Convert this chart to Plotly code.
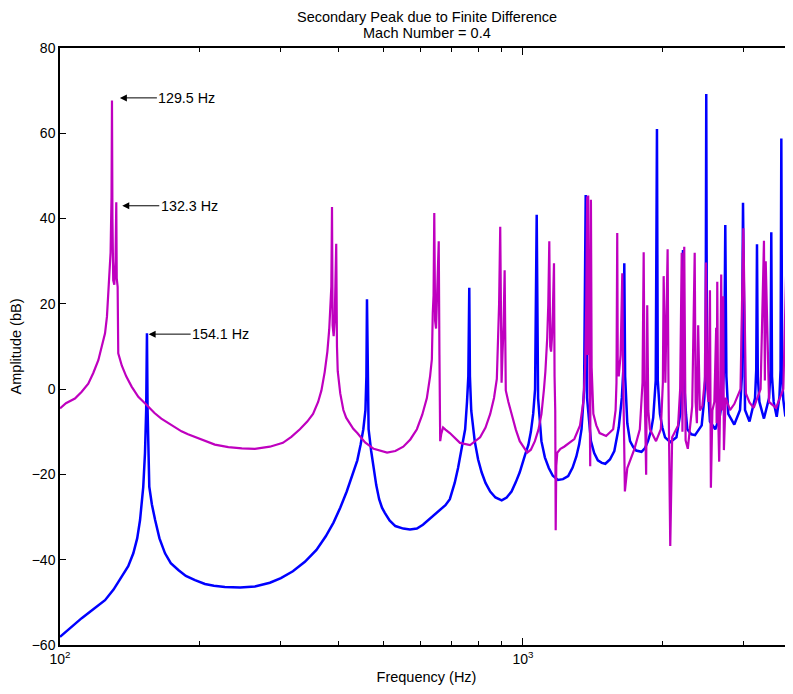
import numpy as np
import plotly.graph_objects as go

# Data (frequency in Hz, amplitude in dB)
blue_freq = [
    100, 105.5, 111.4, 118, 125.1, 130.5, 135.9, 140.4, 144, 146.8, 148.9, 150.2, 151.3, 152.6, 153.5, 154.1,
    154.6, 155.9, 157.9, 160.5, 164, 168.6, 173.5, 180.1, 187, 195.7, 205.6, 215, 227, 245, 263.6, 284,
    300, 318.4, 338, 358, 375, 389.7, 403, 416.2, 428,
    438.7, 446, 452, 456.8, 459, 460.3, 461.5, 464, 470, 476, 482, 489, 496, 503, 515, 530,
    551.4, 570, 590, 608, 628.5, 645, 662, 680, 695, 712, 724, 733, 740, 750, 757, 762,
    765.6, 768, 773, 779, 786.6, 800, 814, 830, 849.6, 872, 899.6, 922, 944.6, 965, 984, 1010,
    1027, 1040, 1052, 1062, 1070.6, 1078, 1087, 1096, 1115, 1137, 1160, 1190, 1220, 1252, 1280, 1304,
    1322, 1338, 1355, 1366, 1375, 1388, 1402, 1425, 1451, 1480, 1506, 1541, 1575, 1610, 1635, 1648,
    1655, 1662, 1680, 1703, 1730, 1756, 1803, 1835, 1862, 1890, 1911, 1935, 1947, 1955, 1976, 2000,
    2027, 2080, 2145, 2186, 2205, 2216, 2225, 2250, 2264, 2310, 2353, 2432, 2465, 2480, 2488, 2496,
    2534, 2602, 2660, 2690, 2720, 2735, 2750, 2776, 2860, 2943, 2970, 2987, 3005, 3017, 3085, 3171,
    3190, 3202, 3215, 3241, 3315, 3400, 3425, 3438, 3450, 3479, 3532, 3580, 3600, 3614, 3628, 3650,
    3687, 3770, 3795, 3807, 3818, 3830,
]
blue_amp = [
    -58.1, -55.9, -53.7, -51.6, -49.5, -47.0, -44.0, -41.5, -38.5, -35.0, -30.7, -27.0, -22.9, -15, -5, 13.1,
    -5, -22.9, -27.0, -30.7, -35.0, -38.5, -40.8, -42.4, -43.8, -44.8, -45.7, -46.1, -46.4, -46.5, -46.3, -45.4,
    -44.3, -42.7, -40.5, -37.7, -34.5, -31.3, -27.8, -24.0, -20.2,
    -16.7, -13, -9.4, -4.9, 3, 21.1, 3, -9.4, -14.5, -18.5, -22.5, -25.8, -27.8, -29, -30.8, -32.1,
    -32.7, -32.9, -32.7, -31.8, -30.4, -29.4, -28.3, -27.2, -25.8, -22, -18.5, -15.5, -13, -9.4, -3, 3,
    23.8, 3, -5, -9, -12.2, -16.5, -19.5, -22, -24, -25.4, -26.1, -25.4, -24, -21.8, -19.5, -15.5,
    -13.1, -10, -5.8, 0, 40.9, -2.1, -8, -12.2, -16, -18.5, -20.3, -21.3, -21.1, -20.4, -18.4, -15.8,
    -13, -9.4, -0.3, 45.5, -2, -8, -12.2, -15, -16.7, -17.3, -17.5, -16.5, -14.5, -9, -2, 5,
    29.5, 3, -8, -12.2, -13.6, -14.4, -14.7, -13.8, -12.2, -9.8, -6.7, 2, 61.0, 2, -5.8, -9,
    -11.3, -12.4, -11.3, -5.8, 3, 32.6, 3, -6, -9.4, -10.6, -10.8, -8.5, -2, 5, 69.2, 5,
    -7.6, -9.4, -6.5, -3, 5, 38.5, 3, -5.8, -8.3, -4.9, 3, 43.7, 2, -4.9, -7.6, -2.1,
    4.5, 34.0, 3, -3, -6.9, -2.1, 4.5, 36.8, 3, -3, -6.5, -1.8, 4.5, 58.8, 3, -2.5,
    -6.4, -2.5, 4.5, 26.4, 2, -3,
]

mag_freq = [
    100, 103, 107.7, 111.4, 115.1, 118, 121, 123.3, 125.1, 126.3, 127.2, 127.8, 128.6, 129.2, 129.5,
    129.8, 130.3, 131.0, 131.8, 132.3, 132.6, 133.2, 133.6, 136, 139, 142.8, 147.6, 153.9, 160, 165.5, 171.4,
    177, 183, 189, 195.7, 207, 216, 231, 247, 263.6, 284, 303, 316, 329.7, 342, 352,
    361, 367, 373, 378, 381.5, 383.8, 385.5, 386.8, 388, 390, 392, 393.5, 395, 396.5, 398, 403,
    409.3, 415, 422, 430, 438.7, 456, 476, 508.7, 530, 551.4, 571, 590, 606, 620, 630, 635.6,
    638.5, 641, 643.3, 646, 649, 652, 655, 657.7, 660, 661, 662.5, 666, 672, 680, 695, 731,
    768.7, 808, 830, 849.6, 866, 878, 884, 888, 893, 897, 899, 903, 908, 912.8, 916, 918,
    930, 944.6, 965, 984, 1021.6, 1040, 1061, 1080, 1096.3, 1110, 1118, 1128, 1134, 1139.8, 1145, 1150,
    1155, 1160, 1166.7, 1170, 1174, 1176.6, 1180, 1186, 1205, 1227, 1260, 1291, 1328, 1350, 1362, 1370,
    1376, 1379, 1383, 1390, 1397, 1402, 1407, 1419, 1440, 1464, 1512, 1566, 1585, 1592, 1598, 1602,
    1610, 1625, 1638.6, 1645, 1660, 1680, 1741, 1788, 1812, 1822.6, 1830, 1845, 1855, 1865, 1880, 1938,
    1985, 2005, 2013, 2030, 2053, 2062, 2080, 2100, 2163, 2185, 2202, 2210, 2230, 2245, 2270, 2320,
    2349, 2360, 2375, 2390, 2410, 2440, 2470, 2484, 2500, 2515, 2534, 2546, 2565, 2590, 2614, 2620,
    2628, 2640, 2653, 2665, 2680, 2695, 2707, 2716, 2740, 2800, 2860, 2950, 2992, 3030, 3085, 3150,
    3260, 3315, 3330, 3344, 3400, 3520, 3650, 3715, 3760, 3830,
]
mag_amp = [
    -4.5, -3.3, -2.2, -0.6, 1.3, 3.8, 6.8, 10, 13.1, 17, 22, 27, 32, 45, 67.7,
    40, 25.5, 24.5, 30, 43.8, 26, 24, 8.4, 5.5, 3.0, 0.6, -1.8, -3.7, -5.6, -6.9, -8.0,
    -9.0, -9.9, -10.6, -11.2, -12.3, -13.0, -13.6, -13.9, -14.0, -13.5, -12.6, -11.2, -9.4, -7.6, -5.8,
    -3, -0.3, 4, 8.8, 14, 19.7, 24, 42.7, 15, 12.4, 16, 25, 34.1, 10, 4.2, -1,
    -4.9, -6.7, -8, -9.3, -10.3, -12.5, -14.0, -14.9, -14.5, -13.5, -11.8, -9.4, -6, -2.1, 3, 7,
    17.9, 22, 41.3, 16, 14.2, 20, 25, 34.7, 8, 2.4, -12.2, -10.5, -9.0, -9.5, -10.3, -12.6,
    -13.1, -11.3, -9, -5.8, -2, 2.4, 12.4, 20, 38.1, 10, 1.5, 8, 15, 27.9, 5, -0.3,
    -3, -5.8, -9.5, -12.2, -14.9, -14.2, -12.2, -9.5, -5.8, 0, 4.2, 12, 19.7, 34.7, 10, 8.8,
    12, 18, 29.5, 3, -5, -33.1, -18, -14.9, -14, -13.5, -12.5, -11.7, -8.5, -3, 5, 20,
    45.2, 8, 45.4, 2, -18.1, 44.4, 5, -5.8, -8.5, -10.3, -11, -9.4, -4.9, 1.5, 36.6, 7,
    3, 8, 27.2, 5, -24, -18.5, -14, -9.4, 1.5, 32.1, 2, -20.1, 19.7, -5, -9.4, -12.2,
    -9.4, 1.5, 26.5, 1.5, 32.8, 0, -36.8, -11.3, -8.5, 0, 32, -10, 33.4, -12, -14, -4,
    32.0, -3, -8, 15.0, -5, -4, 2, 29.7, 0, -3, 23.2, -23.1, -5, -3, 14.4, -8,
    25.2, -6, -17, -4, 26.9, -5, 21.8, -14.3, -2, -4.9, -3.5, 0, 37.7, -1, -3.1, -4.4,
    0, 34.8, 2, 30, -3, -4.4, 0, 34.0, -2, -4.4,
]

# peak labels: tip frequency (Hz), tip amplitude (dB), text, x offset of label centre (px)
label_freq = [134.7, 136.3, 155.4]
label_amp = [68.3, 43.0, 12.9]
label_text = ["129.5 Hz", "132.3 Hz", "154.1 Hz"]
label_dx = [67, 67, 72]

FONT = "Liberation Sans, Arial, Helvetica, sans-serif"

fig = go.Figure()
fig.add_trace(go.Scatter(x=blue_freq, y=blue_amp, mode="lines",
                         line=dict(color="#0000FF", width=2.5), showlegend=False))
fig.add_trace(go.Scatter(x=mag_freq, y=mag_amp, mode="lines",
                         line=dict(color="#BF00BF", width=2.2), showlegend=False))

for f, a, t, dx in zip(label_freq, label_amp, label_text, label_dx):
    fig.add_annotation(x=np.log10(f), y=a, text=t, showarrow=True, ax=dx, ay=0,
                       arrowhead=2, arrowsize=1.4, arrowwidth=1, arrowcolor="black",
                       font=dict(size=14.3, color="black", family=FONT))

fig.add_annotation(text="Secondary Peak due to Finite Difference", xref="paper", yref="paper",
                   x=0.5, y=1, yanchor="middle", yshift=31.5, showarrow=False,
                   font=dict(size=14.5, family=FONT))
fig.add_annotation(text="Mach Number = 0.4", xref="paper", yref="paper",
                   x=0.5, y=1, yanchor="middle", yshift=15.5, showarrow=False,
                   font=dict(size=14.5, family=FONT))

minor_vals = [200, 300, 400, 500, 600, 700, 800, 900, 2000, 3000]
fig.update_xaxes(type="log", range=[2, np.log10(3830)], automargin=False,
                 tickvals=[100, 1000], ticktext=["10<sup>2</sup>", "10<sup>3</sup>"],
                 ticks="inside", ticklen=7, tickcolor="black", tickwidth=1,
                 minor=dict(tickmode="array", tickvals=minor_vals, ticks="inside", ticklen=4,
                            tickcolor="black", showgrid=False),
                 showline=True, linecolor="black", linewidth=1.5, mirror="ticks",
                 showgrid=False, zeroline=False,
                 title=dict(text="Frequency (Hz)", standoff=6, font=dict(size=14.5)),
                 tickfont=dict(size=14, family=FONT))
fig.update_yaxes(range=[-60, 80], dtick=20, automargin=False,
                 ticks="inside", ticklen=6, tickcolor="black",
                 showline=True, linecolor="black", linewidth=1.5,
                 showgrid=False, zeroline=False,
                 title=dict(text="Amplitude (bB)", standoff=8, font=dict(size=14.5)),
                 tickfont=dict(size=14, family=FONT))

# the page adds an 8px body margin, so the figure is 8px smaller and shifted
fig.update_layout(width=785, height=686, margin=dict(l=52, r=0, t=40, b=49),
                  plot_bgcolor="white", paper_bgcolor="white",
                  font=dict(family=FONT, size=14, color="black"))

fig.write_html("out.html")
